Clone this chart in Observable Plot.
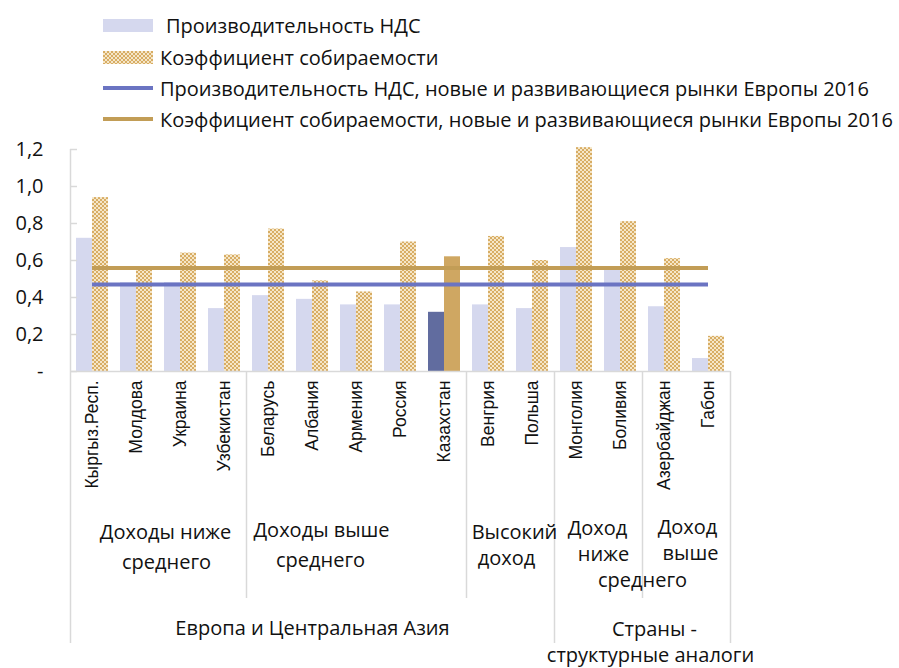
<!DOCTYPE html>
<html>
<head>
<meta charset="utf-8">
<script src="https://cdn.jsdelivr.net/npm/d3@7"></script>
<script src="https://cdn.jsdelivr.net/npm/@observablehq/plot@0.6"></script>
<style>
  html, body { margin: 0; padding: 0; background: #fff; }
  body { width: 899px; height: 668px; overflow: hidden; font-family: "Open Sans", sans-serif; }
  #legend { position: relative; width: 899px; height: 135px; overflow: hidden; }
  .item { position: absolute; left: 103px; height: 32px; display: flex; align-items: center;
          white-space: nowrap; font-size: 20px; color: #111; }
  .item svg { flex: none; }
  #chart svg { display: block; overflow: visible; }
</style>
</head>
<body>
<div id="legend"></div>
<div id="chart"></div>
<script>
// ---------- data ----------
const countries = ["Кыргыз.Респ.", "Молдова", "Украина", "Узбекистан", "Беларусь", "Албания", "Армения",
  "Россия", "Казахстан", "Венгрия", "Польша", "Монголия", "Боливия", "Азербайджан", "Габон"];
const vatProductivity = [0.72, 0.48, 0.48, 0.34, 0.41, 0.39, 0.36, 0.36, 0.32, 0.36, 0.34, 0.67, 0.55, 0.35, 0.07];
const collectionRatio = [0.94, 0.55, 0.64, 0.63, 0.77, 0.49, 0.43, 0.70, 0.62, 0.73, 0.60, 1.21, 0.81, 0.61, 0.19];
const productivityBenchmark = 0.47;   // новые и развивающиеся рынки Европы 2016
const collectionBenchmark = 0.56;
const highlighted = "Казахстан";

const incomeGroupLabels = ["Доходы ниже\nсреднего", "Доходы выше\nсреднего", "Высокий\nдоход", "Доход\nниже\nсреднего", "Доход\nвыше"];
const incomeGroupSizes = [4, 5, 2, 2, 2];
const regionLabels = ["Европа и Центральная Азия", "Страны -\nструктурные аналоги"];
const regionSizes = [11, 4];

const legendLabels = ["Производительность НДС", "Коэффициент собираемости",
  "Производительность НДС, новые и развивающиеся рынки Европы 2016",
  "Коэффициент собираемости, новые и развивающиеся рынки Европы 2016"];

const yTicks = [0, 0.2, 0.4, 0.6, 0.8, 1.0, 1.2];
const yTickLabels = ["-", "0,2", "0,4", "0,6", "0,8", "1,0", "1,2"];

// ---------- styles ----------
const C = {
  lavender: "#d5d8ee", darkBlue: "#616c9f", gold: "#cfa762",
  lineBlue: "#6b74c2", lineGold: "#c29d56", grid: "#d9d9d9",
  dotTan: "#d8ad64", dotCream: "#f5e6c8"
};

// ---------- legend ----------
const legend = document.getElementById("legend");
const rowCenters = [25, 57, 88, 119];
const textGap = [13, 7, 7, 7];
const swatchSvg = [
  `<svg width="50" height="13"><rect width="50" height="13" fill="${C.lavender}"/></svg>`,
  `<svg width="50" height="13"><defs><pattern id="ldots" width="4" height="4" patternUnits="userSpaceOnUse"><rect width="4" height="4" fill="${C.dotCream}"/><rect width="2" height="2" fill="${C.dotTan}"/><rect x="2" y="2" width="2" height="2" fill="${C.dotTan}"/></pattern></defs><rect width="50" height="13" fill="url(#ldots)"/></svg>`,
  `<svg width="50" height="4"><rect width="50" height="4" fill="${C.lineBlue}"/></svg>`,
  `<svg width="50" height="4"><rect width="50" height="4" fill="${C.lineGold}"/></svg>`
];
legendLabels.forEach((label, i) => {
  const div = document.createElement("div");
  div.className = "item";
  div.style.top = (rowCenters[i] - 16) + "px";
  div.innerHTML = swatchSvg[i] + `<span style="margin-left:${textGap[i]}px">${label}</span>`;
  legend.appendChild(div);
});

// ---------- chart data ----------
const rows = countries.map((country, i) => ({country, i, prod: vatProductivity[i], coll: collectionRatio[i]}));
const n = countries.length;

function cumulative(sizes) {
  const out = [0];
  sizes.forEach(s => out.push(out[out.length - 1] + s));
  return out;
}
const incomeBounds = cumulative(incomeGroupSizes);
const regionBounds = cumulative(regionSizes);
const shortBounds = incomeBounds.filter(b => !regionBounds.includes(b));
const longBounds = regionBounds.filter(b => b !== 0);

// label line layout (offsets from the plot's bottom edge, in px)
const incomeLayout = [
  {top: 161, step: 30, dx: [7, 8]},
  {top: 159, step: 30, dx: [-35, -36]},
  {top: 161, step: 26, dx: [4, -4]},
  {top: 157, step: 26, dx: [-1, 5, 44]},
  {top: 156, step: 26, dx: [1, 4]}
];
const regionLayout = [
  {top: 257, step: 26, dx: [0]},
  {top: 258, step: 26, dx: [12, 8]}
];
function labelLines(labels, bounds, layout) {
  const out = [];
  labels.forEach((label, g) => {
    const center = (bounds[g] + bounds[g + 1]) / 2;
    label.split("\n").forEach((t, k) => {
      out.push({text: t, x: center, dx: layout[g].dx[k] || 0, dy: layout[g].top + k * layout[g].step});
    });
  });
  return out;
}
const groupLines = [...labelLines(incomeGroupLabels, incomeBounds, incomeLayout),
                    ...labelLines(regionLabels, regionBounds, regionLayout)];

const font = "'Open Sans', sans-serif";

const chart = Plot.plot({
  width: 899,
  height: 533,
  marginTop: 14,
  marginBottom: 297,
  marginLeft: 70,
  marginRight: 169,
  x: {type: "linear", domain: [0, n], axis: null},
  y: {domain: [0, 1.2], axis: null},
  style: {fontFamily: font, fontSize: "20px", color: "#111", background: "transparent", overflow: "visible"},
  marks: [
    // productivity bars
    Plot.rectY(rows.filter(d => d.country !== highlighted), {x1: "i", x2: d => d.i + 1, y: "prod", insetLeft: 6, insetRight: 22, fill: C.lavender}),
    Plot.rectY(rows.filter(d => d.country === highlighted), {x1: "i", x2: d => d.i + 1, y: "prod", insetLeft: 6, insetRight: 22, fill: C.darkBlue}),
    // collection ratio bars
    Plot.rectY(rows.filter(d => d.country !== highlighted), {x1: "i", x2: d => d.i + 1, y: "coll", insetLeft: 22, insetRight: 6, fill: "url(#dots)"}),
    Plot.rectY(rows.filter(d => d.country === highlighted), {x1: "i", x2: d => d.i + 1, y: "coll", insetLeft: 22, insetRight: 6, fill: C.gold}),
    // baseline
    Plot.ruleY([0], {x1: 0, x2: n, stroke: C.grid, strokeWidth: 1.5}),
    // y axis line (extends down through category labels)
    Plot.ruleX([0], {y1: 1.2, y2: 0, insetBottom: -272, stroke: C.grid, strokeWidth: 1.5}),
    // y ticks
    Plot.ruleY(yTicks, {x1: 0, x2: 0, insetRight: -7, stroke: C.grid, strokeWidth: 1.5}),
    // group separators
    Plot.ruleX(shortBounds, {y1: 0, y2: 0, insetBottom: -227, stroke: C.grid, strokeWidth: 1.5}),
    Plot.ruleX(longBounds, {y1: 0, y2: 0, insetBottom: -272, stroke: C.grid, strokeWidth: 1.5}),
    // benchmark lines
    Plot.ruleY([productivityBenchmark], {x1: 0.5, x2: n - 0.5, stroke: C.lineBlue, strokeWidth: 4}),
    Plot.ruleY([collectionBenchmark], {x1: 0.5, x2: n - 0.5, stroke: C.lineGold, strokeWidth: 4}),
    // y tick labels
    Plot.axisY({ticks: yTicks, tickFormat: d => yTickLabels[yTicks.indexOf(d)], tickSize: 0, tickPadding: 27,
                fontSize: 20, fontFamily: font, fill: "#111"}),
    // country labels
    Plot.text(rows, {x: d => d.i + 0.5, text: "country", frameAnchor: "bottom", rotate: -90,
                     textAnchor: "end", lineAnchor: "middle", dy: 9,
                     fontSize: 17.5, fontFamily: "'Liberation Sans', Arial, sans-serif", fill: "#111"}),
    // group labels
    ...groupLines.map(l => Plot.text([l], {x: "x", text: "text", frameAnchor: "bottom", dx: l.dx, dy: l.dy,
                     lineAnchor: "middle", fontSize: 20, fontFamily: font, fill: "#111"}))
  ]
});

// dotted pattern for collection ratio bars
const defs = d3.select(chart).insert("defs", ":first-child");
const pat = defs.append("pattern").attr("id", "dots").attr("width", 4).attr("height", 4).attr("patternUnits", "userSpaceOnUse");
pat.append("rect").attr("width", 4).attr("height", 4).attr("fill", C.dotCream);
pat.append("rect").attr("width", 2).attr("height", 2).attr("fill", C.dotTan);
pat.append("rect").attr("x", 2).attr("y", 2).attr("width", 2).attr("height", 2).attr("fill", C.dotTan);

document.getElementById("chart").appendChild(chart);
</script>
</body>
</html>
